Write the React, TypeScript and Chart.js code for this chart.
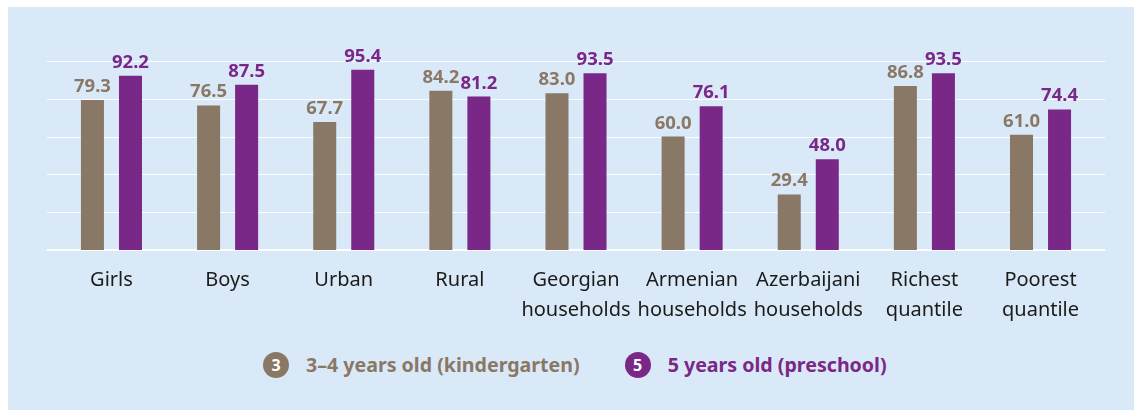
import React, { useEffect, useRef } from "react";
import { Chart, registerables } from "chart.js";

Chart.register(...registerables);

const categories: string[][] = [
  ["Girls"],
  ["Boys"],
  ["Urban"],
  ["Rural"],
  ["Georgian", "households"],
  ["Armenian", "households"],
  ["Azerbaijani", "households"],
  ["Richest", "quantile"],
  ["Poorest", "quantile"],
];
const kindergarten: number[] = [79.3, 76.5, 67.7, 84.2, 83.0, 60.0, 29.4, 86.8, 61.0];
const preschool: number[] = [92.2, 87.5, 95.4, 81.2, 93.5, 76.1, 48.0, 93.5, 74.4];
const seriesNames: string[] = ["3–4 years old (kindergarten)", "5 years old (preschool)"];
const seriesBadges: string[] = ["3", "5"];

const BROWN = "#8a7866";
const PURPLE = "#7a2888";
const BG = "#dae9f7";
const FONT = "'Noto Sans', 'Open Sans', sans-serif";

const gridPlugin = {
  id: "extGrid",
  beforeDatasetsDraw(chart: any) {
    const { ctx, chartArea, scales } = chart;
    const y = scales.y;
    ctx.save();
    ctx.strokeStyle = "rgba(255,255,255,0.95)";
    y.ticks.forEach((t: any) => {
      const py = Math.round(y.getPixelForValue(t.value));
      const w = t.value === 0 ? 2 : 1;
      ctx.lineWidth = w;
      ctx.beginPath();
      const off = w === 1 ? 0.5 : 0;
      ctx.moveTo(chartArea.left - 6.5, py + off);
      ctx.lineTo(chartArea.right + 6.5, py + off);
      ctx.stroke();
    });
    ctx.restore();
  },
};

const labelPlugin = {
  id: "valueLabels",
  afterDatasetsDraw(chart: any) {
    const { ctx } = chart;
    ctx.save();
    ctx.font = `bold 18.5px ${FONT}`;
    ctx.textAlign = "center";
    ctx.textBaseline = "alphabetic";
    chart.data.datasets.forEach((ds: any, i: number) => {
      const meta = chart.getDatasetMeta(i);
      ctx.fillStyle = ds.backgroundColor;
      meta.data.forEach((bar: any, j: number) => {
        const v = ds.data[j] as number;
        ctx.fillText(v.toFixed(1), bar.x, bar.y - 8);
      });
    });
    ctx.restore();
  },
};

export default function App() {
  const ref = useRef<HTMLCanvasElement | null>(null);

  useEffect(() => {
    if (!ref.current) return;
    const chart = new Chart(ref.current, {
      type: "bar",
      data: {
        labels: categories,
        datasets: [
          {
            label: seriesNames[0],
            data: kindergarten,
            backgroundColor: BROWN,
            categoryPercentage: 0.655,
            barPercentage: 0.605,
          },
          {
            label: seriesNames[1],
            data: preschool,
            backgroundColor: PURPLE,
            categoryPercentage: 0.655,
            barPercentage: 0.605,
          },
        ],
      },
      options: {
        responsive: false,
        animation: false,
        layout: { padding: { left: 45.4, right: 27.4, top: 54, bottom: 0 } },
        plugins: {
          legend: { display: false },
          tooltip: { enabled: false },
        },
        scales: {
          x: {
            grid: { display: false, drawTicks: false },
            border: { display: false },
            ticks: {
              color: "#1b1b1b",
              font: { family: FONT, size: 20, lineHeight: 1.475 },
              padding: 16,
              maxRotation: 0,
              autoSkip: false,
            },
            afterFit(scale: any) {
              scale.height = 80;
            },
          },
          y: {
            min: 0,
            max: 100,
            ticks: { display: false, stepSize: 20 },
            grid: { display: false, drawTicks: false },
            border: { display: false },
          },
        },
      },
      plugins: [gridPlugin, labelPlugin],
    });
    return () => chart.destroy();
  }, []);

  const colors = [BROWN, PURPLE];

  return (
    <div
      style={{
        position: "fixed",
        left: 8,
        top: 7,
        width: 1160,
        height: 440,
        background: BG,
        fontFamily: FONT,
      }}
    >
      <canvas
        ref={ref}
        width={1118}
        height={323}
        style={{ position: "absolute", left: 0, top: 0, width: 1118, height: 323 }}
      />
      <div
        style={{
          position: "absolute",
          left: 255,
          top: 345,
          height: 26,
          display: "flex",
          alignItems: "center",
          whiteSpace: "nowrap",
        }}
      >
        {seriesNames.map((name, i) => (
          <div
            key={name}
            style={{ display: "flex", alignItems: "center", marginLeft: i === 0 ? 0 : 45 }}
          >
            <div
              style={{
                width: 26,
                height: 26,
                borderRadius: "50%",
                background: colors[i],
                color: "#fff",
                fontWeight: 700,
                fontSize: 16,
                lineHeight: "26px",
                textAlign: "center",
                marginRight: 17,
              }}
            >
              {seriesBadges[i]}
            </div>
            <div style={{ color: colors[i], fontWeight: 700, fontSize: 19.6, lineHeight: "26px" }}>
              {name}
            </div>
          </div>
        ))}
      </div>
    </div>
  );
}
